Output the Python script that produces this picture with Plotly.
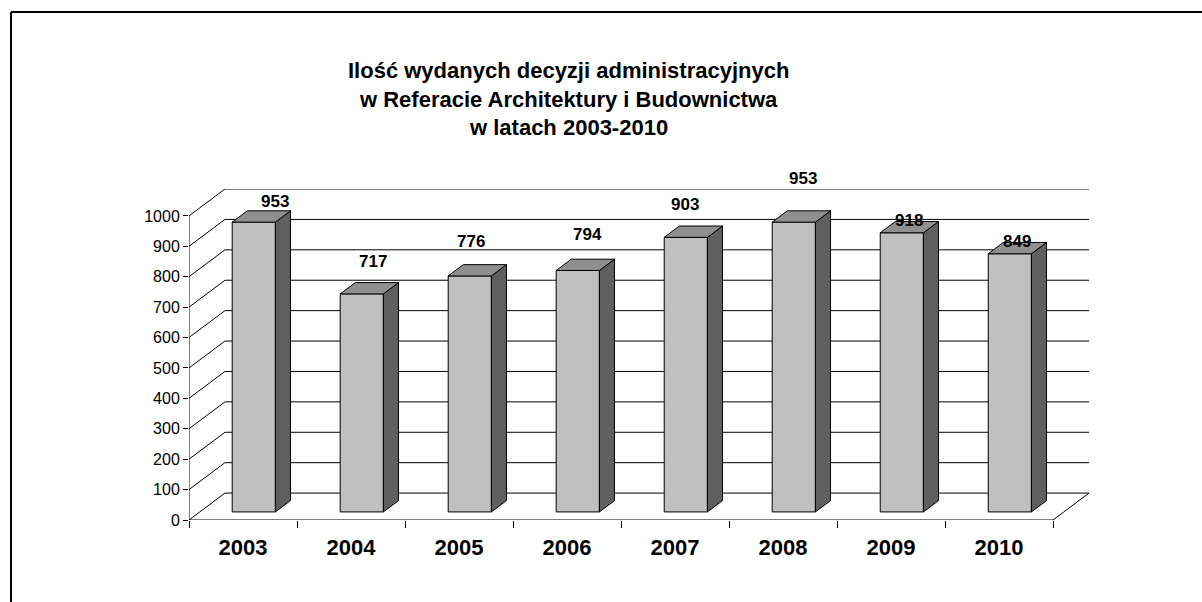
import plotly.graph_objects as go

# ---- data ----
years = ["2003", "2004", "2005", "2006", "2007", "2008", "2009", "2010"]
decisions = [953, 717, 776, 794, 903, 953, 918, 849]
y_ticks = [0, 100, 200, 300, 400, 500, 600, 700, 800, 900, 1000]
title_lines = ["Ilość wydanych decyzji administracyjnych",
               "w Referacie Architektury i Budownictwa",
               "w latach 2003-2010"]

# ---- label nudges (pixels), style only ----
label_xshift = [21, 11, 1, 10, -1, 9, 7, 7]
label_yshift = [21, 32, 34, 36, 33, 44, 12, 12]

# ---- 3D projection settings ----
DX = 0.333   # depth offset in category units
DY = 88.5    # depth offset in value units
F0, F1 = 0.30, 0.72  # bar front / back depth fraction
HALF = 0.2   # half bar width
n = len(years)
ymax = max(y_ticks)

FONT = "Liberation Sans, Arial, sans-serif"
FRONT, SIDE, TOP = "#C0C0C0", "#5F5F5F", "#8F8F8F"

# pixel geometry of plot area
L, R, T, B = 189, 1089, 189, 520
W, H = 1202, 602
def px(x):
    return (x - L) / (R - L)
def py(y):
    return (B - y) / (B - T)

fig = go.Figure()

# walls: back gridlines + left wall diagonals
gx, gy = [], []
for g in y_ticks:
    gx += [DX, n + DX, None, 0, DX, None]
    gy += [g + DY, g + DY, None, g, g + DY, None]
# floor front edge, right edge, front value axis line
gx += [0, n, n + DX, None, 0, 0, None]
gy += [0, 0, DY, None, 0, ymax, None]
fig.add_trace(go.Scatter(x=gx, y=gy, mode="lines",
                         line=dict(color="black", width=1),
                         hoverinfo="skip", showlegend=False))

# bars
for i, v in enumerate(decisions):
    a = i + 0.5 - HALF
    b = i + 0.5 + HALF
    x0f, x1f = a + F0 * DX, b + F0 * DX
    x0b, x1b = a + F1 * DX, b + F1 * DX
    y0f, y0b = F0 * DY, F1 * DY
    # front face
    fig.add_trace(go.Scatter(
        x=[x0f, x1f, x1f, x0f, x0f], y=[y0f, y0f, y0f + v, y0f + v, y0f],
        mode="lines", fill="toself", fillcolor=FRONT,
        line=dict(color="black", width=1), hoverinfo="skip", showlegend=False))
    # side face
    fig.add_trace(go.Scatter(
        x=[x1f, x1b, x1b, x1f, x1f], y=[y0f, y0b, y0b + v, y0f + v, y0f],
        mode="lines", fill="toself", fillcolor=SIDE,
        line=dict(color="black", width=1), hoverinfo="skip", showlegend=False))
    # top face
    fig.add_trace(go.Scatter(
        x=[x0f, x1f, x1b, x0b, x0f], y=[y0f + v, y0f + v, y0b + v, y0b + v, y0f + v],
        mode="lines", fill="toself", fillcolor=TOP,
        line=dict(color="black", width=1), hoverinfo="skip", showlegend=False))

# dummy trace so the label axis is drawn
fig.add_trace(go.Scatter(x=[None], y=[None], xaxis="x2", yaxis="y",
                         hoverinfo="skip", showlegend=False))

# data labels
for i, v in enumerate(decisions):
    fig.add_annotation(x=i + 0.5 + F0 * DX, y=F0 * DY + v, xref="x", yref="y",
                       text=str(v), showarrow=False, xanchor="center", yanchor="middle",
                       xshift=label_xshift[i], yshift=label_yshift[i],
                       font=dict(family=FONT, size=17, color="black", weight="bold"))

# title lines
for line, ypix in zip(title_lines, [70, 99, 127]):
    fig.add_annotation(x=px(568), y=py(ypix), xref="paper", yref="paper",
                       text="<b>" + line + "</b>", showarrow=False,
                       xanchor="center", yanchor="middle",
                       font=dict(family=FONT, size=22, color="black"))

# outer frame (top and left edges visible)
fig.add_shape(type="line", xref="paper", yref="paper",
              x0=px(11), x1=px(W + 5), y0=py(12), y1=py(12),
              line=dict(color="black", width=2))
fig.add_shape(type="line", xref="paper", yref="paper",
              x0=px(11), x1=px(11), y0=py(12), y1=py(H + 5),
              line=dict(color="black", width=2))

fig.update_layout(
    width=W, height=H,
    margin=dict(l=L, r=W - R, t=T, b=H - B, pad=0),
    paper_bgcolor="white", plot_bgcolor="white",
    showlegend=False,
    xaxis=dict(range=[0, n + DX], tickvals=list(range(n + 1)), ticks="outside",
               ticklen=7, tickcolor="black", tickwidth=1, showticklabels=False,
               showgrid=False, zeroline=False, showline=False, fixedrange=True),
    xaxis2=dict(range=[0, n + DX], overlaying="x", anchor="y", side="bottom",
                tickvals=[i + 0.5 for i in range(n)], ticktext=years, ticks="",
                ticklabelstandoff=12,
                tickfont=dict(family=FONT, size=22, color="black", weight="bold"),
                showgrid=False, zeroline=False, showline=False, fixedrange=True),
    yaxis=dict(range=[0, ymax + DY], tickvals=y_ticks, ticks="outside", ticklen=5,
               tickcolor="black", tickwidth=1,
               tickfont=dict(family=FONT, size=16, color="black"),
               showgrid=False, zeroline=False, showline=False, fixedrange=True),
)

fig.write_html(
    "out.html",
    config={"displayModeBar": False},
    post_script="document.body.style.margin='0';"
                "document.body.style.overflow='hidden';"
                "document.documentElement.style.overflow='hidden';",
)
